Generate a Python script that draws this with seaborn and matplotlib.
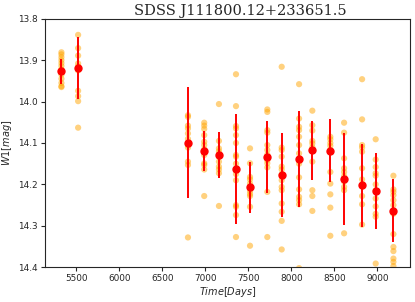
import numpy as np
import pandas as pd
import matplotlib
matplotlib.use("Agg")
import matplotlib.pyplot as plt
import seaborn as sns

# epoch centres (days) and binned mean / scatter
epoch_days = [5329, 5523, 6799, 6988, 7159, 7357, 7520, 7721,
              7888, 8090, 8244, 8453, 8613, 8822, 8980, 9186]
epoch_mean = [13.927, 13.919, 14.099, 14.120, 14.129, 14.163, 14.207, 14.133,
              14.177, 14.139, 14.118, 14.119, 14.187, 14.202, 14.216, 14.263]
epoch_err = [0.030, 0.075, 0.133, 0.048, 0.055, 0.133, 0.062, 0.087,
             0.102, 0.116, 0.072, 0.076, 0.112, 0.100, 0.091, 0.075]

# single exposures per epoch
single_mags = [
    [13.881, 13.886, 13.893, 13.900, 13.907, 13.914, 13.922, 13.935, 13.945, 13.955, 13.963, 13.965],
    [13.839, 13.871, 13.889, 13.908, 13.915, 13.925, 13.974, 13.987, 13.999, 14.063],
    [14.033, 14.037, 14.058, 14.065, 14.077, 14.090, 14.105, 14.111, 14.145, 14.153, 14.328],
    [14.051, 14.058, 14.066, 14.081, 14.097, 14.105, 14.115, 14.129, 14.149, 14.153, 14.164, 14.228],
    [14.006, 14.095, 14.113, 14.120, 14.127, 14.133, 14.145, 14.157, 14.164, 14.173, 14.252],
    [13.934, 14.011, 14.059, 14.065, 14.081, 14.100, 14.129, 14.133, 14.150, 14.175, 14.190,
     14.250, 14.254, 14.274, 14.327],
    [14.113, 14.149, 14.182, 14.188, 14.198, 14.216, 14.223, 14.228, 14.254, 14.348],
    [14.019, 14.025, 14.069, 14.075, 14.105, 14.117, 14.128, 14.142, 14.149, 14.159, 14.218, 14.327],
    [13.916, 14.111, 14.117, 14.133, 14.157, 14.164, 14.176, 14.190, 14.206, 14.214, 14.246,
     14.266, 14.288, 14.357],
    [13.958, 14.041, 14.061, 14.069, 14.085, 14.105, 14.125, 14.150, 14.183, 14.212, 14.230,
     14.238, 14.248, 14.402],
    [14.022, 14.057, 14.070, 14.095, 14.101, 14.110, 14.145, 14.214, 14.228, 14.264],
    [14.085, 14.091, 14.100, 14.107, 14.117, 14.170, 14.198, 14.224, 14.256, 14.324],
    [14.051, 14.075, 14.137, 14.161, 14.170, 14.180, 14.193, 14.206, 14.214, 14.318],
    [13.946, 14.043, 14.105, 14.111, 14.121, 14.161, 14.188, 14.205, 14.228, 14.248, 14.297],
    [14.091, 14.140, 14.158, 14.173, 14.179, 14.200, 14.214, 14.234, 14.253, 14.271, 14.278, 14.391],
    [14.179, 14.212, 14.218, 14.226, 14.238, 14.250, 14.271, 14.320, 14.351, 14.361, 14.379,
     14.387, 14.397],
]

title = "SDSS J111800.12+233651.5"

rows = []
for day, mags in zip(epoch_days, single_mags):
    for m in mags:
        rows.append({"time": day, "mag": m})
df = pd.DataFrame(rows)

sns.set_style("ticks")
plt.rcParams["font.family"] = ["DejaVu Sans"]

fig, ax = plt.subplots(figsize=(4.15, 3.02), dpi=100)
fig.subplots_adjust(left=0.108, right=0.988, top=0.938, bottom=0.115)

sns.scatterplot(data=df, x="time", y="mag", ax=ax, color="orange",
                alpha=0.5, s=20, edgecolor="none", zorder=2)
ax.errorbar(epoch_days, epoch_mean, yerr=epoch_err, fmt="o", color="red",
            ms=5, elinewidth=1.4, capsize=0, zorder=3)

ax.set_ylim(14.4, 13.8)
ax.set_xlabel("$Time[Days]$", fontsize=7, labelpad=1)
ax.set_ylabel("$W1[mag]$", fontsize=7, labelpad=3)
ax.set_title(title, family="DejaVu Serif", fontsize=10.5, x=0.534, pad=3)
ax.tick_params(labelsize=6.4, length=3, width=0.8, pad=2)
for sp in ax.spines.values():
    sp.set_linewidth(0.8)
    sp.set_visible(True)

fig.savefig("out.png", dpi=100)
